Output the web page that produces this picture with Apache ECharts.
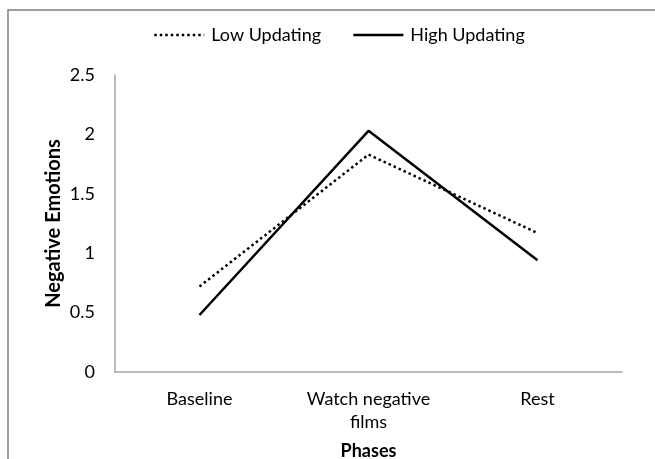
<!DOCTYPE html>
<html><head><meta charset="utf-8">
<script src="https://cdn.jsdelivr.net/npm/echarts@6/dist/echarts.min.js"></script>
<style>html,body{margin:0;padding:0;background:#fff}#c{width:655px;height:459px}</style>
</head><body><div id="c"></div>
<script>
const categories = ['Baseline', 'Watch negative\nfilms', 'Rest'];
const lowUpdating = [0.72, 1.83, 1.17];
const highUpdating = [0.48, 2.03, 0.94];
const yTicks = [0, 0.5, 1, 1.5, 2, 2.5];

const chart = echarts.init(document.getElementById('c'));
const font = 'Lato, "Open Sans", sans-serif';
chart.setOption({
  animation: false,
  graphic: [{type: 'rect', shape: {x: 8, y: 10, width: 700, height: 500}, style: {fill: 'none', stroke: '#808080', lineWidth: 1.5}}],
  legend: {
    top: 21, left: 148, itemWidth: 50, itemHeight: 12, itemGap: 31,
    itemStyle: {opacity: 0},
    lineStyle: {width: 2.5},
    textStyle: {fontFamily: font, fontSize: 18, color: '#000', padding: [0, 0, 0, 2]},
    data: ['Low Updating', 'High Updating']
  },
  grid: {left: 115, top: 75, right: 33, bottom: 87, outerBoundsMode: 'none', containLabel: false},
  xAxis: {
    type: 'category', data: categories, boundaryGap: true,
    name: 'Phases', nameLocation: 'middle', nameGap: 70, nameMoveOverlap: false,
    nameTextStyle: {fontFamily: font, fontSize: 18, fontWeight: 'bold', color: '#000'},
    axisLine: {lineStyle: {color: '#a6a6a6', width: 1.5}},
    axisTick: {show: false},
    axisLabel: {fontFamily: font, fontSize: 18, color: '#000', margin: 16, lineHeight: 23}
  },
  yAxis: {
    type: 'value', min: 0, max: 2.5, interval: 0.5,
    name: 'Negative Emotions', nameLocation: 'middle', nameGap: 51, nameMoveOverlap: false,
    nameTextStyle: {fontFamily: font, fontSize: 20, fontWeight: 'bold', color: '#000'},
    axisLine: {show: true, lineStyle: {color: '#a6a6a6', width: 1.5}},
    axisTick: {show: false},
    splitLine: {show: false},
    axisLabel: {fontFamily: font, fontSize: 18, color: '#000', margin: 20,
      formatter: v => yTicks.includes(v) ? String(v) : ''}
  },
  series: [
    {name: 'Low Updating', type: 'line', data: lowUpdating, symbol: 'none',
      lineStyle: {color: '#000', width: 2.5, type: [2.5, 3], cap: 'butt'}, itemStyle: {color: '#000'}},
    {name: 'High Updating', type: 'line', data: highUpdating, symbol: 'none',
      lineStyle: {color: '#000', width: 2.5}, itemStyle: {color: '#000'}}
  ]
});
</script></body></html>
